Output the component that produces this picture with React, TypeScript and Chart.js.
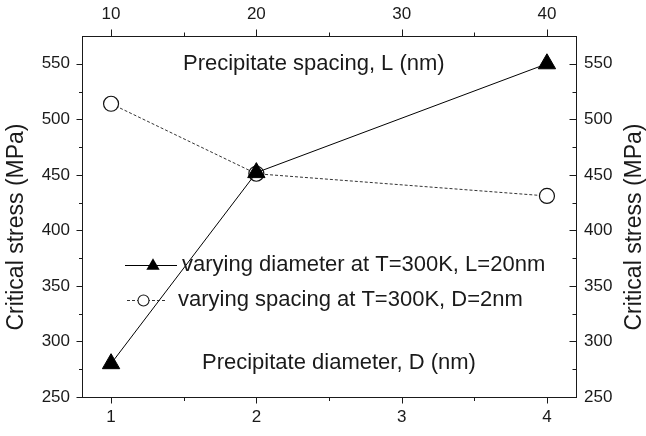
import React, { useEffect, useRef } from 'react';
import { Chart, registerables } from 'chart.js';

Chart.register(...registerables);

// ---- data ----
const diameterX = [1, 2, 4];
const diameterStress = [280, 452, 550];
const spacingX = [10, 20, 40];
const spacingStress = [514, 451, 431];

const bottomTicks = [1, 2, 3, 4];
const bottomMinor = [1.5, 2.5, 3.5];
const topTicks = [10, 20, 30, 40];
const topMinor = [15, 25, 35];
const stressTicks = [250, 300, 350, 400, 450, 500, 550];
const stressMinor = [275, 325, 375, 425, 475, 525];

const seriesLabels = ['varying diameter at T=300K, L=20nm', 'varying spacing at T=300K, D=2nm'];
const yTitle = 'Critical stress (MPa)';
const topNote = 'Precipitate spacing, L (nm)';
const bottomNote = 'Precipitate diameter, D (nm)';

const FONT = '"Liberation Sans", Arial, Helvetica, sans-serif';
const INK = '#1a1a1a';

const overlay = {
  id: 'overlay',
  afterDraw(chart: any) {
    const ctx: CanvasRenderingContext2D = chart.ctx;
    const { x, x2, y, y2 } = chart.scales;
    const a = chart.chartArea;
    ctx.save();
    ctx.strokeStyle = INK;
    ctx.lineWidth = 1;
    const seg = (ax: number, ay: number, bx: number, by: number) => {
      ctx.beginPath();
      ctx.moveTo(ax, ay);
      ctx.lineTo(bx, by);
      ctx.stroke();
    };
    const px = (s: any, v: number) => Math.round(s.getPixelForValue(v)) + 0.5;
    const bot = Math.round(a.bottom) + 0.5;
    const top = Math.round(a.top) + 0.5;
    const lef = Math.round(a.left) + 0.5;
    const rig = Math.round(a.right) + 0.5;
    bottomTicks.forEach((v) => seg(px(x, v), bot, px(x, v), bot + 6));
    bottomMinor.forEach((v) => seg(px(x, v), bot, px(x, v), bot + 3.5));
    topTicks.forEach((v) => seg(px(x2, v), top, px(x2, v), top - 7));
    topMinor.forEach((v) => seg(px(x2, v), top, px(x2, v), top - 4));
    stressTicks.forEach((v) => seg(lef - 6, px(y, v), lef, px(y, v)));
    stressMinor.forEach((v) => seg(lef - 3.5, px(y, v), lef, px(y, v)));
    stressTicks.forEach((v) => seg(rig, px(y2, v), rig - 7, px(y2, v)));
    stressMinor.forEach((v) => seg(rig, px(y2, v), rig - 4, px(y2, v)));

    // axis titles (both read bottom-to-top)
    ctx.fillStyle = INK;
    ctx.font = `23px ${FONT}`;
    ctx.textAlign = 'center';
    ctx.textBaseline = 'middle';
    ctx.save();
    ctx.translate(17, 227);
    ctx.rotate(-Math.PI / 2);
    ctx.fillText(yTitle, 0, 0);
    ctx.restore();
    ctx.save();
    ctx.translate(635, 227);
    ctx.rotate(-Math.PI / 2);
    ctx.fillText(yTitle, 0, 0);
    ctx.restore();

    // notes
    ctx.font = `22px ${FONT}`;
    ctx.textAlign = 'left';
    ctx.fillText(topNote, 183, 64);
    ctx.fillText(bottomNote, 202, 363);

    // legend
    const ds = chart.data.datasets;
    ctx.strokeStyle = ds[0].borderColor;
    ctx.setLineDash([]);
    seg(125, 265.5, 177, 265.5);
    ctx.fillStyle = '#000';
    const r = 7.7;
    const cx = 153, cy = 266;
    ctx.beginPath();
    ctx.moveTo(cx, cy - r);
    ctx.lineTo(cx + r * Math.sin(Math.PI * 2 / 3), cy - r * Math.cos(Math.PI * 2 / 3));
    ctx.lineTo(cx - r * Math.sin(Math.PI * 2 / 3), cy - r * Math.cos(Math.PI * 2 / 3));
    ctx.closePath();
    ctx.fill();
    ctx.fillStyle = INK;
    ctx.fillText(ds[0].label, 182, 265);
    ctx.strokeStyle = ds[1].borderColor;
    ctx.setLineDash([3, 2]);
    seg(127, 300.5, 167, 300.5);
    ctx.setLineDash([]);
    ctx.beginPath();
    ctx.arc(143.5, 300.5, 5.5, 0, Math.PI * 2);
    ctx.fillStyle = '#fff';
    ctx.fill();
    ctx.strokeStyle = INK;
    ctx.lineWidth = 1.1;
    ctx.stroke();
    ctx.fillStyle = INK;
    ctx.fillText(ds[1].label, 178, 300);
    ctx.restore();
  },
};

function fixedTicks(values: number[]) {
  return (scale: any) => {
    scale.ticks = values.map((v) => ({ value: v }));
  };
}

const tickFont = { family: FONT, size: 17 };

export default function App() {
  const ref = useRef<HTMLCanvasElement | null>(null);
  useEffect(() => {
    document.body.style.margin = '0';
    if (!ref.current) return;
    const chart = new Chart(ref.current, {
      type: 'scatter',
      data: {
        datasets: [
          {
            label: seriesLabels[0],
            data: diameterX.map((v, i) => ({ x: v, y: diameterStress[i] })),
            xAxisID: 'x',
            yAxisID: 'y',
            showLine: true,
            borderColor: '#000',
            borderWidth: 1,
            pointStyle: 'triangle',
            pointRadius: 10,
            pointBackgroundColor: '#000',
            pointBorderColor: '#000',
            pointBorderWidth: 1,
          },
          {
            label: seriesLabels[1],
            data: spacingX.map((v, i) => ({ x: v, y: spacingStress[i] })),
            xAxisID: 'x2',
            yAxisID: 'y',
            showLine: true,
            borderColor: '#333',
            borderWidth: 1,
            borderDash: [3, 2],
            pointStyle: 'circle',
            pointRadius: 7.5,
            pointBackgroundColor: '#fff',
            pointBorderColor: '#111',
            pointBorderWidth: 1.2,
          },
        ],
      },
      options: {
        animation: false,
        responsive: false,
        devicePixelRatio: 1,
        layout: { padding: 0 },
        plugins: { legend: { display: false }, tooltip: { enabled: false } },
        scales: {
          x: {
            type: 'linear',
            position: 'bottom',
            min: 0.8,
            max: 4.2,
            afterBuildTicks: fixedTicks(bottomTicks),
            afterFit: (s: any) => { s.height = 39; },
            grid: { drawOnChartArea: false, drawTicks: false },
            border: { display: true, color: INK, width: 1 },
            ticks: { color: INK, font: tickFont, padding: 10, autoSkip: false, maxRotation: 0, callback: (v: any) => String(v) },
          },
          x2: {
            type: 'linear',
            position: 'top',
            min: 8,
            max: 42,
            afterBuildTicks: fixedTicks(topTicks),
            afterFit: (s: any) => { s.height = 36; },
            grid: { drawOnChartArea: false, drawTicks: false },
            border: { display: true, color: INK, width: 1 },
            ticks: { color: INK, font: tickFont, padding: 11, autoSkip: false, maxRotation: 0, callback: (v: any) => String(v) },
          },
          y: {
            type: 'linear',
            position: 'left',
            min: 250,
            max: 575,
            afterBuildTicks: fixedTicks(stressTicks),
            afterFit: (s: any) => { s.width = 82; },
            grid: { drawOnChartArea: false, drawTicks: false },
            border: { display: true, color: INK, width: 1 },
            ticks: { color: INK, font: tickFont, padding: 12, autoSkip: false, callback: (v: any) => String(v) },
          },
          y2: {
            type: 'linear',
            position: 'right',
            min: 250,
            max: 575,
            afterBuildTicks: fixedTicks(stressTicks),
            afterFit: (s: any) => { s.width = 70; },
            grid: { drawOnChartArea: false, drawTicks: false },
            border: { display: true, color: INK, width: 1 },
            ticks: { color: INK, font: tickFont, padding: 8, autoSkip: false, callback: (v: any) => String(v) },
          },
        },
      },
      plugins: [overlay],
    });
    return () => chart.destroy();
  }, []);
  return <canvas ref={ref} width={646} height={436} style={{ display: 'block', width: 646, height: 436 }} />;
}
